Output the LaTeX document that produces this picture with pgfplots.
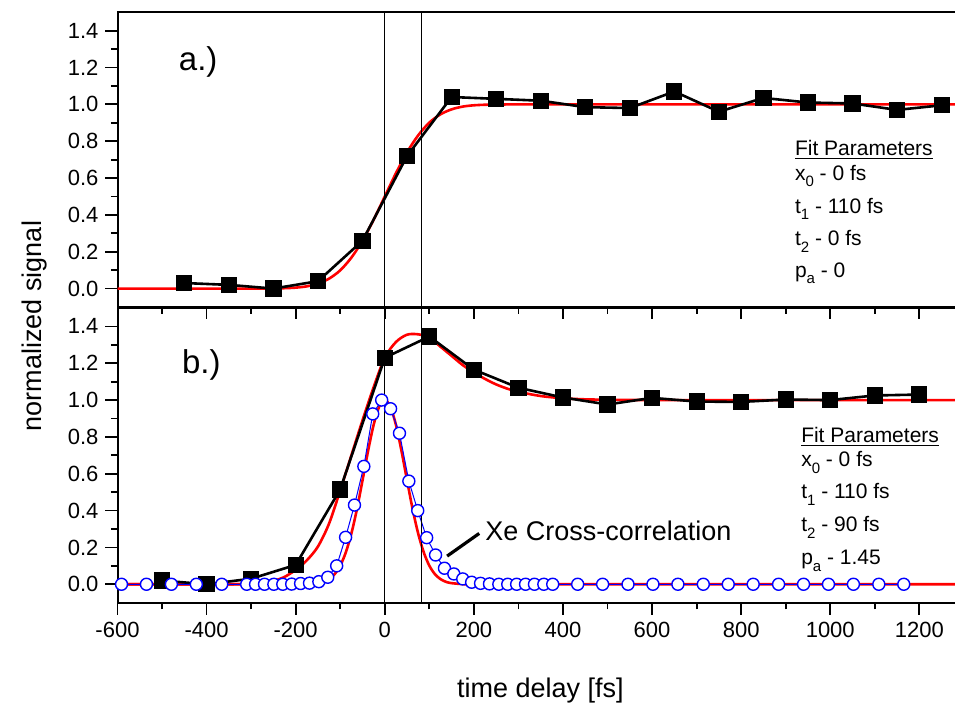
\documentclass[border=0pt]{standalone}
\usepackage{fontspec}
\setmainfont{Liberation Sans}
\usepackage{pgfplots}
\pgfplotsset{compat=1.18}
\newcommand{\sub}[1]{\raisebox{-0.6ex}{\fontsize{7.5}{8}\selectfont #1}}
\begin{document}
\begin{tikzpicture}
\path[use as bounding box] (0,0) rectangle (477.5pt,352pt);
\pgfplotsset{
  panel/.style={
    scale only axis, width=423.2pt, height=147.35pt,
    xmin=-600, xmax=1300, ymin=-0.1, ymax=1.5,
    xtick={-600,-400,-200,0,200,400,600,800,1000,1200},
    minor x tick num=1,
    ytick={0,0.2,0.4,0.6,0.8,1.0,1.2,1.4},
    minor y tick num=1,
    xtick pos=left, ytick pos=left,
    tick align=outside,
    major tick length=6pt, minor tick length=3.3pt,
    every tick/.style={black, line width=0.9pt},
    axis line style={line width=1pt},
    /pgf/number format/assume math mode=true,
    /pgf/number format/1000 sep={},
    ticklabel style={font=\fontsize{11}{13}\selectfont},
    yticklabel style={/pgf/number format/.cd, fixed, fixed zerofill, precision=1},
    clip=true,
  },
  fit/.style={red, line width=1.3pt, smooth},
  sq/.style={black, line width=1.3pt, mark=square*, mark size=3.4pt, mark options={solid}},
  circ/.style={blue, line width=0.5pt, mark=*, mark size=3pt, mark options={draw=blue, fill=white, line width=0.7pt}},
  vl/.style={black, line width=0.6pt},
}
% ---------- top panel ----------
\begin{axis}[panel, at={(58.75pt,198.5pt)}, anchor=south west, xticklabels={}]
\addplot[fit] coordinates {(-600,0)(-450,0)(-300,0)(-250,0.001)(-225,0.002)(-200,0.005)(-175,0.012)(-150,0.027)(-125,0.054)(-100,0.099)(-75,0.168)(-50,0.260)(-25,0.374)(0,0.5)(25,0.626)(50,0.740)(75,0.832)(100,0.901)(125,0.946)(150,0.973)(175,0.988)(200,0.995)(225,0.998)(250,0.999)(300,1)(450,1)(1300,1)};
\addplot[sq] coordinates {(-450,0.03)(-350,0.02)(-250,0.0)(-150,0.04)(-50,0.26)(50,0.72)(150,1.04)(250,1.03)(350,1.02)(450,0.985)(550,0.98)(650,1.07)(750,0.96)(850,1.035)(950,1.01)(1050,1.005)(1150,0.97)(1250,0.995)};
\addplot[vl] coordinates {(0,-0.1)(0,1.5)};
\addplot[vl] coordinates {(82,-0.1)(82,1.5)};
\node[anchor=base west, font=\fontsize{16.5}{18}\selectfont] at (axis cs:-478,1.184) {a.)};
\begin{scope}[every node/.style={anchor=base west, font=\fontsize{10.5}{12}\selectfont, inner sep=0pt}]
\node at (axis cs:920,0.723) {\underline{Fit Parameters}};
\node at (axis cs:920,0.589) {x\sub{0} - 0 fs};
\node at (axis cs:920,0.409) {t\sub{1} - 110 fs};
\node at (axis cs:920,0.234) {t\sub{2} - 0 fs};
\node at (axis cs:920,0.061) {p\sub{a} - 0};
\end{scope}
\end{axis}
% ---------- bottom panel ----------
\begin{axis}[panel, at={(58.75pt,50.65pt)}, anchor=south west]
\addplot[fit] coordinates {(-600,0)(-450,0)(-350,0)(-300,0.003)(-275,0.008)(-250,0.018)(-225,0.04)(-200,0.078)(-175,0.13)(-150,0.205)(-125,0.33)(-100,0.51)(-75,0.70)(-50,0.89)(-25,1.07)(0,1.23)(25,1.315)(50,1.355)(75,1.357)(100,1.34)(125,1.29)(150,1.24)(175,1.19)(200,1.15)(225,1.115)(250,1.085)(275,1.062)(300,1.045)(350,1.022)(400,1.01)(450,1.004)(500,1.002)(600,1)(800,1)(1300,1)};
\addplot[fit] coordinates {(-600,0)(-400,0)(-200,0)(-175,0.001)(-150,0.006)(-137.5,0.013)(-125,0.028)(-112.5,0.055)(-100,0.101)(-87.5,0.173)(-75,0.275)(-62.5,0.408)(-50,0.564)(-37.5,0.724)(-25,0.866)(-12.5,0.965)(0,1.0)(12.5,0.965)(25,0.866)(37.5,0.724)(50,0.564)(62.5,0.408)(75,0.275)(87.5,0.173)(100,0.101)(112.5,0.055)(125,0.028)(137.5,0.013)(150,0.006)(175,0.001)(200,0)(400,0)(1300,0)};
\addplot[sq] coordinates {(-500,0.02)(-400,0.0)(-300,0.03)(-200,0.105)(-100,0.515)(0,1.23)(100,1.345)(200,1.165)(300,1.067)(400,1.014)(500,0.976)(600,1.012)(700,0.992)(800,0.99)(900,1.003)(1000,1.0)(1100,1.025)(1200,1.03)};
\addplot[circ] coordinates {(-591,0)(-535,0)(-479,0)(-423,0)(-366,0)(-310,0)(-290,0)(-270,0)(-249,0)(-229,0)(-209,0.001)(-189,0.004)(-169,0.006)(-148,0.014)(-128,0.038)(-108,0.10)(-88,0.255)(-68,0.43)(-47,0.64)(-27,0.925)(-7,1.0)(13,0.953)(33,0.82)(54,0.56)(74,0.40)(94,0.253)(114,0.159)(134,0.087)(155,0.056)(175,0.029)(195,0.011)(215,0.005)(235,0.002)(256,0)(276,0)(296,0)(316,0)(336,0)(357,0)(377,0)(433,0)(489,0)(546,0)(602,0)(658,0)(715,0)(771,0)(827,0)(884,0)(940,0)(996,0)(1052,0)(1109,0)(1165,0)};
\addplot[vl] coordinates {(0,-0.1)(0,1.5)};
\addplot[vl] coordinates {(82,-0.1)(82,1.5)};
\addplot[black, line width=1.6pt] coordinates {(140,0.153)(212,0.276)};
\node[anchor=base west, font=\fontsize{13.5}{15}\selectfont, inner sep=0pt] at (axis cs:225,0.236) {Xe Cross-correlation};
\node[anchor=base west, font=\fontsize{16.5}{18}\selectfont] at (axis cs:-471,1.142) {b.)};
\begin{scope}[every node/.style={anchor=base west, font=\fontsize{10.5}{12}\selectfont, inner sep=0pt}]
\node at (axis cs:934,0.772) {\underline{Fit Parameters}};
\node at (axis cs:934,0.637) {x\sub{0} - 0 fs};
\node at (axis cs:934,0.466) {t\sub{1} - 110 fs};
\node at (axis cs:934,0.285) {t\sub{2} - 90 fs};
\node at (axis cs:934,0.108) {p\sub{a} - 1.45};
\end{scope}
\end{axis}
\node[anchor=base, font=\fontsize{13.5}{15}\selectfont] at (270.25pt,3pt) {time delay [fs]};
\node[rotate=90, font=\fontsize{13.5}{15}\selectfont] at (17.5pt,189pt) {normalized signal};
\end{tikzpicture}
\end{document}
